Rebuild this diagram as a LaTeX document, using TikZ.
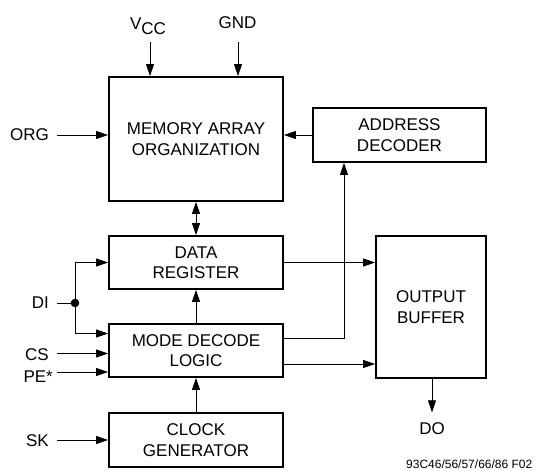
\documentclass[tikz,border=0pt]{standalone}
\usepackage{fontspec}
\setmainfont{Liberation Sans}
\usetikzlibrary{arrows.meta}
\begin{document}
\begin{tikzpicture}[x=1pt,y=-1pt,
  blk/.style={draw,line width=1.8pt,align=center,inner sep=0pt,font=\fontsize{17}{20.5}\selectfont},
  lbl/.style={inner sep=0pt,font=\fontsize{17}{20}\selectfont},
  conn/.style={line width=0.9pt},
  arr/.style={conn,-{Triangle[length=12pt,width=8pt]}},
  darr/.style={conn,{Triangle[length=12pt,width=8pt]}-{Triangle[length=12pt,width=8pt]}}]
\useasboundingbox (0,0) rectangle (539,471);
% blocks
\node[blk,minimum width=174pt,minimum height=124pt] (mem) at (196,139) {MEMORY ARRAY\\ORGANIZATION};
\node[blk,minimum width=173pt,minimum height=54pt] (adr) at (399.5,135) {ADDRESS\\DECODER};
\node[blk,minimum width=174pt,minimum height=53pt] (data) at (196,262.5) {DATA\\REGISTER};
\node[blk,minimum width=174pt,minimum height=53pt] (mode) at (196,350.5) {MODE DECODE\\LOGIC};
\node[blk,minimum width=174pt,minimum height=54pt] (clk) at (196,440) {CLOCK\\GENERATOR};
\node[blk,minimum width=110pt,minimum height=142pt] (out) at (431,307) {OUTPUT\\BUFFER};
% labels
\node[lbl] (vcc) at (148,26) {V\raisebox{-5pt}{CC}};
\node[lbl] (gnd) at (237.5,23) {GND};
\node[lbl,anchor=east] (org) at (49,135) {ORG};
\node[lbl,anchor=east] (di) at (49,303) {DI};
\node[lbl,anchor=east] (cs) at (49,355) {CS};
\node[lbl,anchor=east] (pe) at (53,377) {PE*};
\node[lbl,anchor=east] (sk) at (49,441) {SK};
\node[lbl] (do) at (432,428.5) {DO};
\node[inner sep=0pt,anchor=base west,font=\fontsize{12}{12}\selectfont] (fn) at (406,468) {93C46/56/57/66/86 F02};
% free ends
\coordinate (vccin) at (150,42);
\coordinate (gndin) at (238,42);
\coordinate (orgin) at (57,135);
\coordinate (diin) at (57,303);
\coordinate (didot) at (75,303);
\coordinate (csin) at (57,353.5);
\coordinate (pein) at (57,372);
\coordinate (skin) at (57,440);
% connectors
\draw[arr] (vccin) -- (vccin |- mem.north);
\draw[arr] (gndin) -- (gndin |- mem.north);
\draw[arr] (orgin) -- (orgin -| mem.west);
\draw[arr] (adr.west) -- (adr.west -| mem.east);
\draw[darr] (mem.south) -- (data.north);
\draw[arr] (mode.north) -- (data.south);
\draw[arr] (clk.north) -- (mode.south);
\draw[arr] (data.east) -- (data.east -| out.west);
\draw[arr] ([yshift=-13.5pt]mode.east) -- ([yshift=-13.5pt]mode.east -| out.west);
\draw[arr] ([yshift=12.5pt]mode.east) -| ([xshift=-55.5pt]adr.south);
\draw[conn] (diin) -- (didot);
\fill (didot) circle (4.3pt);
\draw[arr] (didot) |- (data.west);
\draw[arr] (didot) |- ([yshift=17pt]mode.west);
\draw[arr] (csin) -- (csin -| mode.west);
\draw[arr] (pein) -- (pein -| mode.west);
\draw[arr] (skin) -- (skin -| clk.west);
\draw[arr,shorten >=10pt] (out.south -| do.north) -- (do.north);
\end{tikzpicture}
\end{document}
